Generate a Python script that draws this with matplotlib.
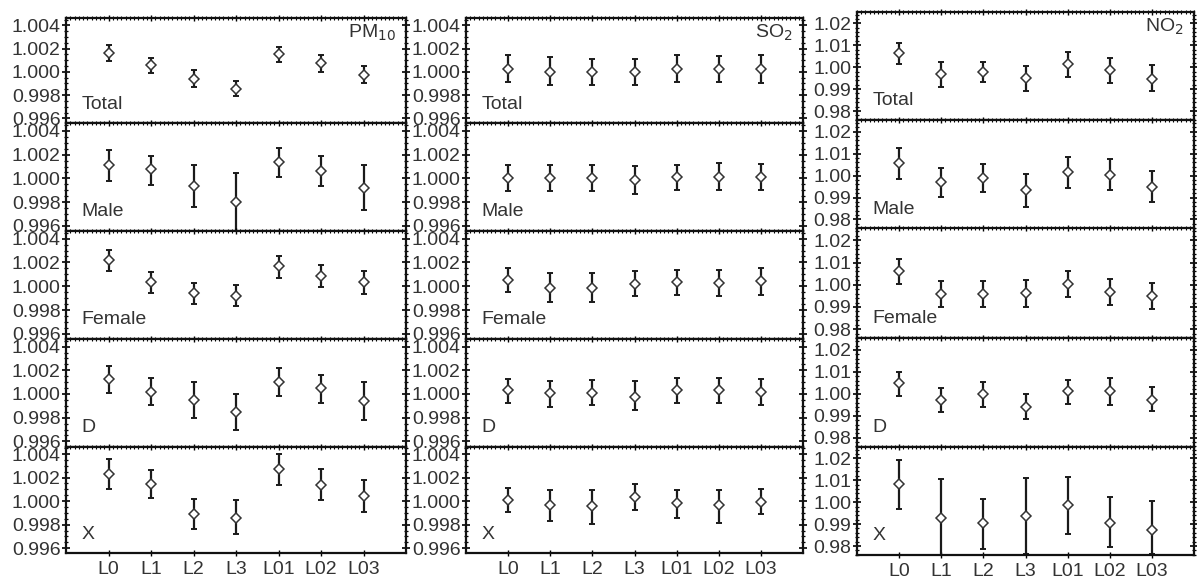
import matplotlib
matplotlib.use("Agg")
import matplotlib.pyplot as plt
from matplotlib.ticker import MultipleLocator, FixedLocator, FormatStrFormatter

plt.rcParams['font.family'] = ['Liberation Sans', 'DejaVu Sans']

lags = ["L0", "L1", "L2", "L3", "L01", "L02", "L03"]
groups = ["Total", "Male", "Female", "D", "X"]
pollutants = ["PM$_{10}$", "SO$_2$", "NO$_2$"]

# ---------------- PM10 ----------------
pm10_est = [
    [1.00163, 1.00056, 0.99941, 0.99855, 1.00151, 1.00074, 0.99973],
    [1.00113, 1.00075, 0.99937, 0.99800, 1.00137, 1.00063, 0.99922],
    [1.00219, 1.00032, 0.99940, 0.99922, 1.00167, 1.00089, 1.00032],
    [1.00129, 1.00016, 0.99949, 0.99847, 1.00103, 1.00048, 0.99943],
    [1.00232, 1.00145, 0.99890, 0.99861, 1.00270, 1.00136, 1.00043],
]
pm10_lo = [
    [1.00095, 0.99991, 0.99873, 0.99790, 1.00086, 1.00003, 0.99908],
    [0.99982, 0.99946, 0.99758, 0.99550, 1.00009, 0.99937, 0.99734],
    [1.00127, 0.99945, 0.99853, 0.99830, 1.00072, 0.99994, 0.99934],
    [1.00007, 0.99905, 0.99798, 0.99696, 0.99984, 0.99926, 0.99780],
    [1.00099, 1.00023, 0.99762, 0.99719, 1.00136, 1.00006, 0.99904],
]
pm10_hi = [
    [1.00228, 1.00119, 1.00015, 0.99920, 1.00216, 1.00145, 1.00047],
    [1.00236, 1.00191, 1.00116, 1.00045, 1.00260, 1.00188, 1.00116],
    [1.00305, 1.00118, 1.00026, 1.00014, 1.00256, 1.00178, 1.00132],
    [1.00240, 1.00138, 1.00103, 0.99999, 1.00220, 1.00161, 1.00103],
    [1.00354, 1.00267, 1.00020, 1.00006, 1.00400, 1.00270, 1.00180],
]

# ---------------- SO2 ----------------
so2_est = [
    [1.00029, 1.00003, 1.00003, 1.00003, 1.00026, 1.00026, 1.00025],
    [1.00003, 1.00003, 1.00003, 0.99985, 1.00009, 1.00015, 1.00010],
    [1.00055, 0.99988, 0.99986, 1.00017, 1.00032, 1.00028, 1.00040],
    [1.00031, 1.00007, 1.00007, 0.99978, 1.00031, 1.00031, 1.00020],
    [1.00009, 0.99971, 0.99962, 1.00035, 0.99980, 0.99965, 0.99995],
]
so2_lo = [
    [0.99909, 0.99885, 0.99885, 0.99885, 0.99909, 0.99909, 0.99905],
    [0.99890, 0.99890, 0.99890, 0.99867, 0.99905, 0.99900, 0.99900],
    [0.99951, 0.99870, 0.99865, 0.99917, 0.99925, 0.99920, 0.99930],
    [0.99926, 0.99891, 0.99905, 0.99862, 0.99926, 0.99926, 0.99910],
    [0.99904, 0.99832, 0.99809, 0.99925, 0.99855, 0.99815, 0.99890],
]
so2_hi = [
    [1.00147, 1.00124, 1.00115, 1.00115, 1.00147, 1.00135, 1.00145],
    [1.00113, 1.00113, 1.00113, 1.00104, 1.00113, 1.00130, 1.00120],
    [1.00155, 1.00109, 1.00109, 1.00124, 1.00138, 1.00138, 1.00150],
    [1.00129, 1.00106, 1.00118, 1.00106, 1.00138, 1.00138, 1.00130],
    [1.00110, 1.00096, 1.00096, 1.00145, 1.00096, 1.00096, 1.00100],
]

# ---------------- NO2 ----------------
no2_est = [
    [1.00624, 0.99696, 0.99800, 0.99498, 1.00122, 0.99850, 0.99480],
    [1.00585, 0.99708, 0.99892, 0.99323, 1.00169, 1.00020, 0.99500],
    [1.00596, 0.99585, 0.99585, 0.99615, 1.00050, 0.99680, 0.99500],
    [1.00473, 0.99740, 0.99969, 0.99405, 1.00122, 1.00120, 0.99720],
    [1.00806, 0.99255, 0.99057, 0.99361, 0.99863, 0.99050, 0.98750],
]
no2_lo = [
    [1.00137, 0.99118, 0.99346, 0.98920, 0.99559, 0.99300, 0.98900],
    [0.99862, 0.99046, 0.99246, 0.98554, 0.99431, 0.99350, 0.98800],
    [1.00038, 0.98981, 0.98981, 0.98981, 0.99450, 0.99100, 0.98900],
    [0.99908, 0.99176, 0.99405, 0.98840, 0.99557, 0.99500, 0.99200],
    [0.99711, 0.97500, 0.97886, 0.97627, 0.98570, 0.97950, 0.97650],
]
no2_hi = [
    [1.01110, 1.00243, 1.00243, 1.00061, 1.00700, 1.00400, 1.00100],
    [1.01246, 1.00323, 1.00508, 1.00062, 1.00831, 1.00750, 1.00200],
    [1.01170, 1.00189, 1.00189, 1.00234, 1.00600, 1.00250, 1.00100],
    [1.01008, 1.00275, 1.00519, 0.99969, 1.00626, 1.00700, 1.00300],
    [1.01916, 1.01034, 1.00167, 1.01110, 1.01156, 1.00250, 1.00050],
]

data = [(pm10_est, pm10_lo, pm10_hi), (so2_est, so2_lo, so2_hi), (no2_est, no2_lo, no2_hi)]

W, H = 1197, 581
fig = plt.figure(figsize=(W / 100, H / 100), dpi=100)

col_lr = [(66, 406), (466, 803), (857, 1194)]
row_edges = [
    [18, 123.3, 231, 339, 446.5, 553.3],
    [18, 123.3, 231, 339, 446.5, 553.3],
    [11.7, 120, 228.5, 338.3, 446.7, 555],
]
ylims = [(0.99557, 1.00464), (0.99557, 1.00464), (0.9759, 1.0253)]
ymajor = [0.002, 0.002, 0.01]
yminor = [0.0005, 0.0005, 0.002]
yfmt = ["%.3f", "%.3f", "%.2f"]
txt_col = "#333333"
x = list(range(len(lags)))

for c in range(3):
    est_all, lo_all, hi_all = data[c]
    l, r = col_lr[c]
    for rix in range(5):
        top, bot = row_edges[c][rix], row_edges[c][rix + 1]
        ax = fig.add_axes([l / W, 1 - bot / H, (r - l) / W, (bot - top) / H])
        est = est_all[rix]
        lo = [e - v for e, v in zip(est, lo_all[rix])]
        hi = [v - e for e, v in zip(est, hi_all[rix])]
        ax.errorbar(x, est, yerr=[lo, hi], fmt='none', ecolor='#1a1a1a',
                    elinewidth=1.6, capsize=2.4, capthick=1.4, zorder=2)
        ax.plot(x, est, linestyle='none', marker='D', markersize=5,
                markerfacecolor='white', markeredgecolor='#333333',
                markeredgewidth=1.1, zorder=3)
        ax.set_xlim(-1, 7)
        ax.set_ylim(*ylims[c])
        ax.yaxis.set_major_locator(MultipleLocator(ymajor[c]))
        ax.yaxis.set_minor_locator(MultipleLocator(yminor[c]))
        ax.yaxis.set_major_formatter(FormatStrFormatter(yfmt[c]))
        ax.xaxis.set_major_locator(FixedLocator(x))
        ax.xaxis.set_minor_locator(MultipleLocator(0.1))
        ax.tick_params(axis='y', which='major', direction='inout', length=6,
                       width=1.2, left=True, right=True, labelsize=14,
                       labelcolor=txt_col, pad=1)
        ax.tick_params(axis='y', which='minor', direction='inout', length=3.5,
                       width=0.9, left=True, right=True)
        last = (rix == 4)
        ax.tick_params(axis='x', which='major', direction='inout', length=5,
                       width=1.0, top=True, bottom=last, labelbottom=last,
                       labelsize=14, labelcolor=txt_col, pad=3)
        ax.tick_params(axis='x', which='minor', direction='inout', length=2.5,
                       width=0.8, top=True, bottom=False)
        if last:
            ax.set_xticklabels(lags)
        for s in ax.spines.values():
            s.set_linewidth(1.6)
            s.set_color('#111111')
        ax.text(0.045, 0.1, groups[rix], transform=ax.transAxes, fontsize=14,
                color=txt_col, ha='left', va='bottom')
        if rix == 0:
            ax.text(0.97, 0.86, pollutants[c], transform=ax.transAxes,
                    fontsize=14, color=txt_col, ha='right', va='center')

fig.savefig("out.png", dpi=100)
